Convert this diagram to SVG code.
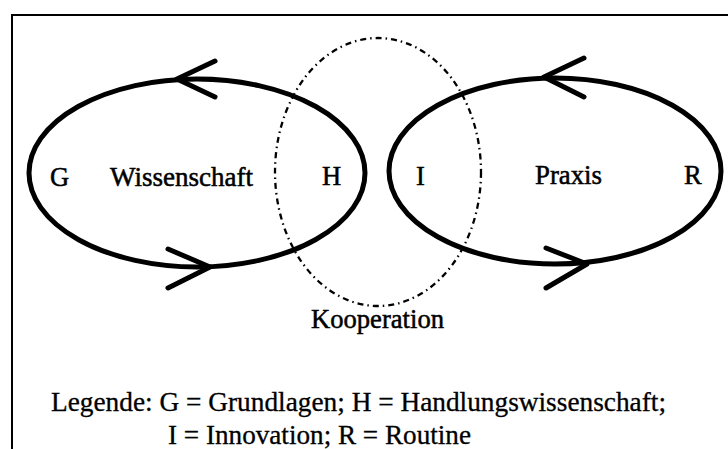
<svg xmlns="http://www.w3.org/2000/svg" width="728" height="449" viewBox="0 0 728 449">
<style>
.loop{fill:none;stroke:#000;stroke-width:5}
.arrow{fill:none;stroke:#000;stroke-width:5;stroke-linecap:round;stroke-linejoin:round}
.coop{fill:none;stroke:#000;stroke-width:2.3;stroke-dasharray:6 4 1.5 4}
text{font-family:"Liberation Serif","Times New Roman",serif;fill:#000;stroke:#000}
.lbl{font-size:26.5px;stroke-width:0.5}
.leg{font-size:27px;stroke-width:0.3}
</style>
<rect width="728" height="449" fill="#fff"/>
<path d="M12 449 V15 H728" fill="none" stroke="#000" stroke-width="2"/>
<g id="kooperation">
<ellipse class="coop" cx="378" cy="172" rx="103" ry="134"/>
<text class="lbl" x="311" y="328" textLength="133" lengthAdjust="spacingAndGlyphs">Kooperation</text>
</g>
<g id="wissenschaft">
<ellipse class="loop" cx="197" cy="173" rx="168" ry="94"/>
<text class="lbl" x="50" y="186">G</text>
<text class="lbl" x="110" y="186" textLength="143" lengthAdjust="spacingAndGlyphs">Wissenschaft</text>
<text class="lbl" x="322" y="185">H</text>
</g>
<g id="praxis">
<ellipse class="loop" cx="555" cy="171" rx="166" ry="93"/>
<text class="lbl" x="416" y="185">I</text>
<text class="lbl" x="535" y="184" textLength="67" lengthAdjust="spacingAndGlyphs">Praxis</text>
<text class="lbl" x="684" y="184">R</text>
</g>
<g id="connectors">
<polyline class="arrow" points="215,61 177,79 215,97"/>
<polyline class="arrow" points="168,249 210,267 168,288"/>
<polyline class="arrow" points="584,58 544,77 584,97"/>
<polyline class="arrow" points="546,248 587,264 546,288"/>
</g>
<g id="legende">
<text class="leg" x="51" y="411" textLength="615" lengthAdjust="spacingAndGlyphs">Legende: G = Grundlagen; H = Handlungswissenschaft;</text>
<text class="leg" x="168" y="444" textLength="303" lengthAdjust="spacingAndGlyphs">I = Innovation; R = Routine</text>
</g>
</svg>
